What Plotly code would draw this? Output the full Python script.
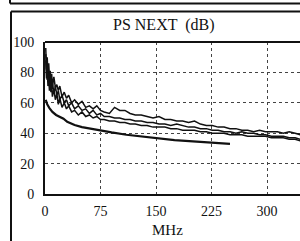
import plotly.graph_objects as go

freq = [1, 2, 3, 4, 5, 6, 7, 8, 9, 10, 12, 14, 16, 18, 20, 23, 26, 29, 32, 36, 40,
        45, 50, 55, 60, 65, 70, 75, 80, 87, 94, 101, 108, 115, 122, 130, 138, 146,
        154, 162, 170, 178, 186, 194, 202, 210, 218, 226, 234, 242, 250, 258, 266,
        274, 282, 290, 298, 306, 314, 322, 330, 338, 345]

pair_a = [96, 82, 90, 78, 86, 77, 81, 73, 79, 71, 77, 70, 72, 68, 71, 64, 67, 63, 65, 60, 62,
          59, 61, 57, 58, 56, 58, 55, 54, 53, 57, 55, 55, 53, 52, 52, 51, 50,
          51, 49, 49, 48, 48, 47, 48, 46, 45, 45, 44, 44, 43, 43, 42,
          42, 41, 42, 41, 41, 41, 40, 41, 40, 39]

pair_b = [92, 79, 75, 84, 73, 78, 71, 76, 69, 74, 66, 71, 65, 68, 62, 65, 60, 62, 58, 60, 56,
          58, 55, 56, 53, 55, 52, 53, 51, 51, 50, 50, 49, 49, 48, 48, 47, 47,
          46, 46, 45, 46, 45, 44, 44, 43, 43, 42, 42, 41, 41, 40, 41,
          40, 40, 39, 39, 38, 38, 38, 37, 37, 36]

pair_c = [88, 76, 83, 71, 77, 68, 74, 67, 71, 64, 69, 62, 66, 59, 63, 57, 60, 56, 58, 54, 55,
          52, 54, 51, 52, 50, 51, 49, 49, 48, 48, 47, 47, 46, 46, 45, 45, 44,
          44, 44, 43, 43, 42, 42, 42, 41, 41, 40, 40, 40, 39, 39, 39,
          38, 38, 38, 38, 37, 37, 37, 36, 36, 35]

limit_freq = [1, 3, 6, 10, 15, 20, 25, 30, 40, 50, 60, 75, 90, 110, 130, 150, 175, 200, 225, 250]
limit_db = [62, 59, 56.5, 54, 52, 51, 49.5, 47.5, 45.4, 44, 43, 41.8, 40.5, 39, 37.8, 36.8,
            35.5, 34.6, 33.8, 33.0]

x_ticks = [0, 75, 150, 225, 300]
y_ticks = [0, 20, 40, 60, 80, 100]

FONT = "Liberation Serif, Times New Roman, serif"

fig = go.Figure()
for vals in (pair_a, pair_b, pair_c):
    fig.add_trace(go.Scatter(x=freq, y=vals, mode="lines",
                             line=dict(color="#111111", width=1.5),
                             showlegend=False, hoverinfo="skip"))
fig.add_trace(go.Scatter(x=limit_freq, y=limit_db, mode="lines",
                         line=dict(color="#111111", width=2.2),
                         showlegend=False, hoverinfo="skip"))

L, R, T, B = 45, 0, 42, 47
W, H = 300, 241
pw, ph = W - L - R, H - T - B

def px(x):
    return (x - L) / pw

def py(y):
    return 1 - (y - T) / ph

fig.update_layout(
    width=W, height=H,
    margin=dict(l=L, r=R, t=T, b=B, pad=0),
    paper_bgcolor="white", plot_bgcolor="white",
    font=dict(family=FONT, color="#111111", size=14),
    xaxis=dict(range=[0, 344.6], tickvals=x_ticks, ticktext=[str(v) for v in x_ticks],
               showgrid=True, gridcolor="#444444", griddash="dot", gridwidth=1,
               showline=True, linecolor="#111111", linewidth=2, mirror=False,
               zeroline=False, ticks="", tickfont=dict(size=14, family=FONT),
               ticklabelstandoff=3),
    yaxis=dict(range=[0, 100], tickvals=y_ticks, ticktext=[str(v) for v in y_ticks],
               showgrid=True, gridcolor="#444444", griddash="dot", gridwidth=1,
               showline=True, linecolor="#111111", linewidth=2, mirror=False,
               zeroline=False, ticks="", tickfont=dict(size=14, family=FONT),
               ticklabelstandoff=6),
    shapes=[
        dict(type="line", xref="paper", yref="paper", x0=px(10), x1=px(300), y0=py(3.5), y1=py(3.5),
             line=dict(color="#111111", width=2)),
        dict(type="line", xref="paper", yref="paper", x0=px(10), x1=px(10), y0=py(-2), y1=py(3.5),
             line=dict(color="#111111", width=2)),
        dict(type="line", xref="paper", yref="paper", x0=px(11), x1=px(300), y0=py(11.5), y1=py(11.5),
             line=dict(color="#111111", width=2)),
        dict(type="line", xref="paper", yref="paper", x0=px(11), x1=px(11), y0=py(11.5), y1=py(243),
             line=dict(color="#111111", width=2)),
        dict(type="line", xref="paper", yref="paper", x0=0, x1=1, y0=1, y1=1,
             line=dict(color="#111111", width=2)),
    ],
    annotations=[
        dict(text="PS NEXT  (dB)", xref="paper", yref="paper", x=px(164), y=py(25),
             xanchor="center", yanchor="middle", showarrow=False,
             font=dict(size=16, family=FONT, color="#111111")),
        dict(text="MHz", xref="paper", yref="paper", x=px(167), y=py(230),
             xanchor="center", yanchor="middle", showarrow=False,
             font=dict(size=15, family=FONT, color="#111111")),
    ],
)

fig.write_html(
    "out.html",
    config={"displayModeBar": False},
    post_script="document.body.style.margin='0';document.body.style.padding='0';"
                "document.body.style.overflow='hidden';"
                "document.documentElement.style.overflow='hidden';",
)
